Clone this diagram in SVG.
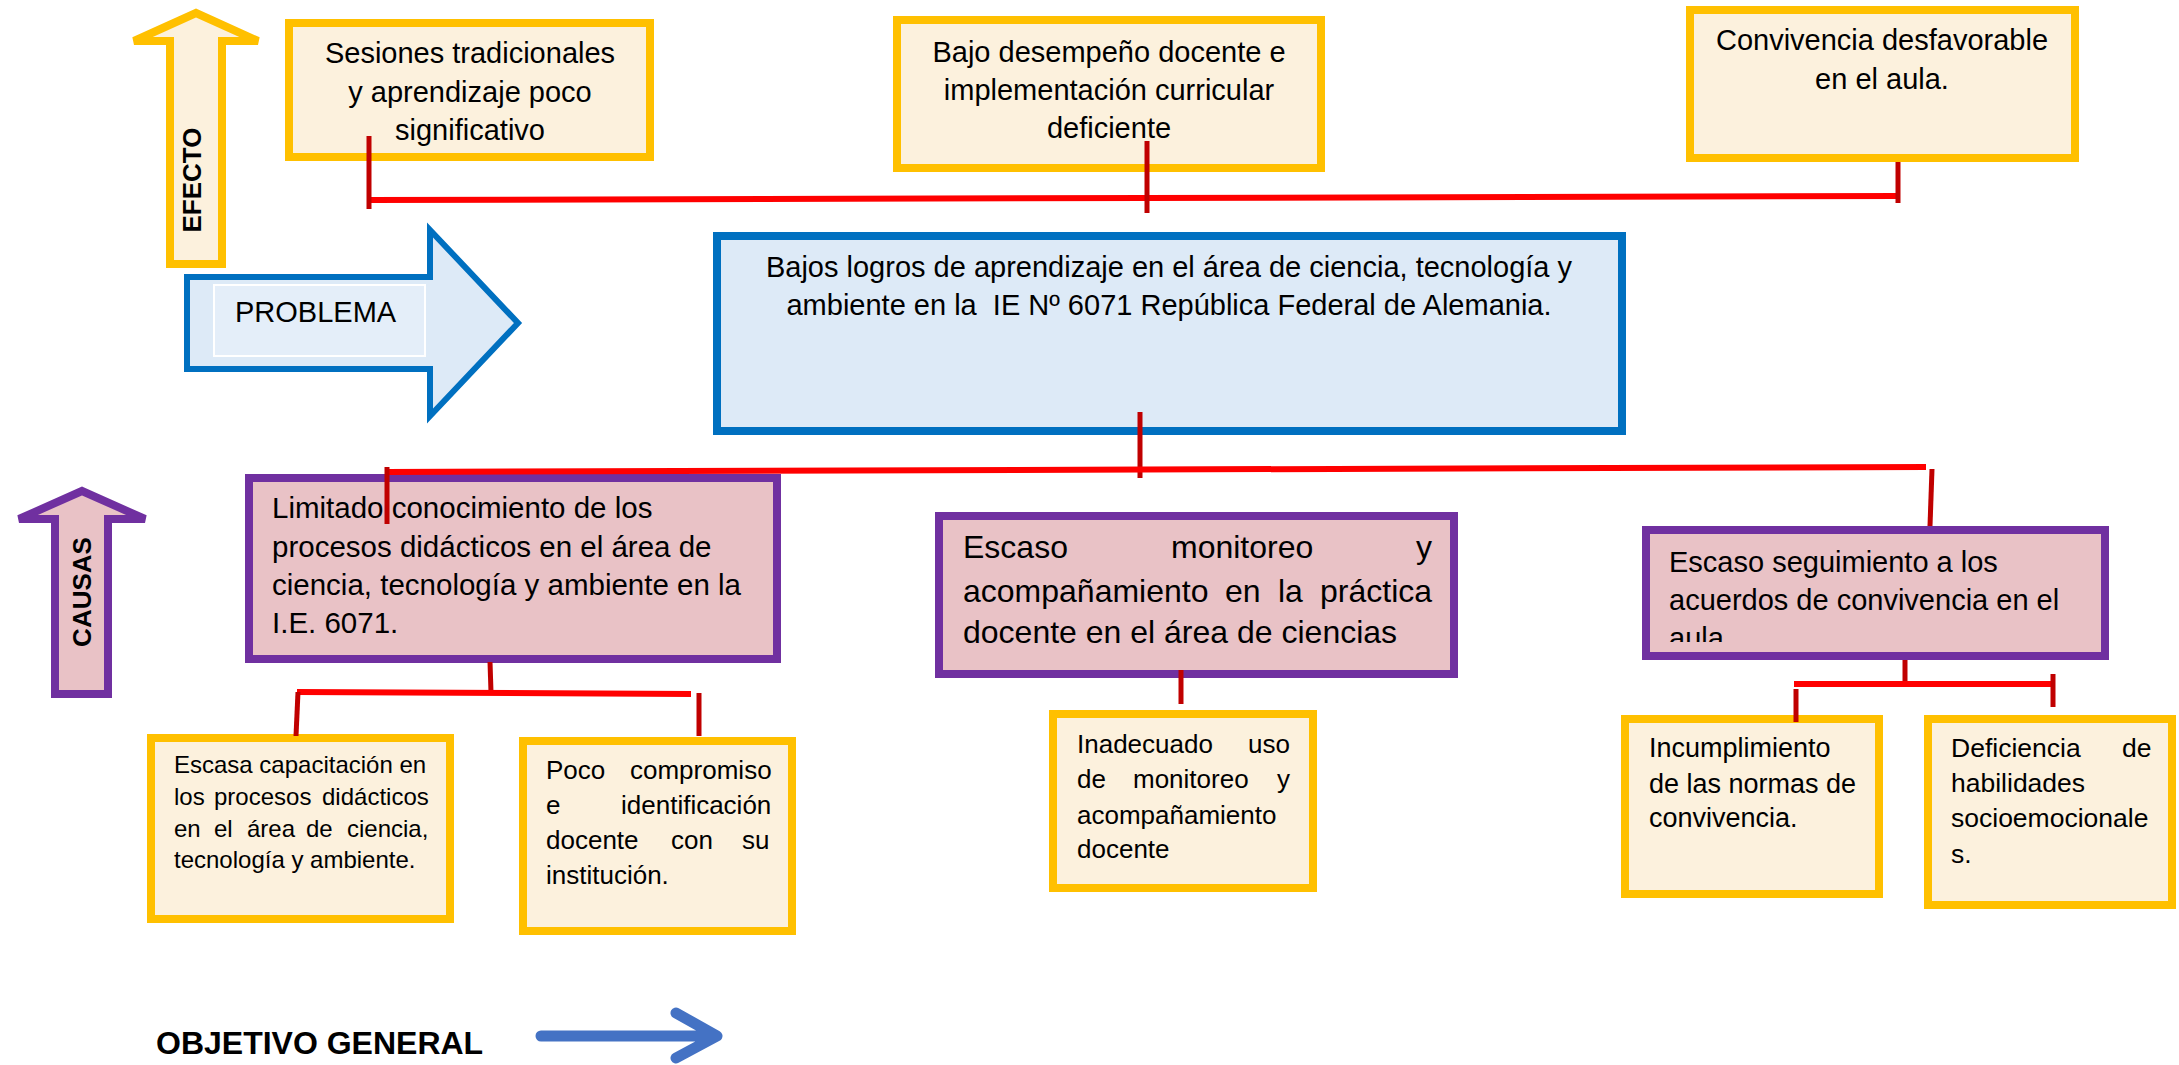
<svg xmlns="http://www.w3.org/2000/svg" width="2179" height="1065" viewBox="0 0 2179 1065">
<style>
text{font-family:"Liberation Sans",Arial,sans-serif;fill:#000;white-space:pre}
.eff{fill:#FCF1DD;stroke:#FFC000;stroke-width:8}
.cau{fill:#E9C2C6;stroke:#7030A0;stroke-width:8}
.prob{fill:#DDEAF7;stroke:#0070C0;stroke-width:8}
.ln{stroke:#FF0000;stroke-width:6;fill:none}
.tk{stroke:#C00000;stroke-width:5;fill:none}
.c{text-anchor:middle}
</style>
<defs>
<clipPath id="clipSeg"><rect x="1650" y="534" width="451" height="108"/></clipPath>
</defs>
<rect width="2179" height="1065" fill="#fff"/>

<g id="efecto-arrow">
<polygon class="eff" points="196,13 258,41 222,41 222,264 170,264 170,41 134,41"/>
<text transform="translate(201,180) rotate(-90)" class="c" font-size="26" font-weight="bold">EFECTO</text>
</g>

<g id="causas-arrow">
<polygon class="cau" points="82,491 145,519 108,519 108,694 55,694 55,519 19,519"/>
<text transform="translate(91,592) rotate(-90)" class="c" font-size="26" font-weight="bold">CAUSAS</text>
</g>

<g id="problema-arrow">
<polygon fill="#DDEAF7" stroke="#0070C0" stroke-width="6" points="187,277 430,277 430,230 518,323 430,416 430,369 187,369"/>
<rect x="214" y="285" width="211" height="71" fill="#E4EEF9" stroke="#fff" stroke-width="2"/>
<text x="235" y="322" font-size="29">PROBLEMA</text>
</g>

<g id="efecto1">
<rect class="eff" x="289" y="23" width="361" height="134"/>
<text class="c" font-size="29"><tspan x="470" y="63">Sesiones tradicionales</tspan><tspan x="470" y="102">y aprendizaje poco</tspan><tspan x="470" y="140">significativo</tspan></text>
</g>

<g id="efecto2">
<rect class="eff" x="897" y="20" width="424" height="148"/>
<text class="c" font-size="29"><tspan x="1109" y="62">Bajo desempeño docente e</tspan><tspan x="1109" y="100">implementación curricular</tspan><tspan x="1109" y="138">deficiente</tspan></text>
</g>

<g id="efecto3">
<rect class="eff" x="1690" y="10" width="385" height="148"/>
<text class="c" font-size="29"><tspan x="1882" y="50">Convivencia desfavorable</tspan><tspan x="1882" y="89">en el aula.</tspan></text>
</g>

<g id="problema">
<rect class="prob" x="717" y="236" width="905" height="195"/>
<text class="c" font-size="29"><tspan x="1169" y="277">Bajos logros de aprendizaje en el área de ciencia, tecnología y</tspan><tspan x="1169" y="315">ambiente en la  IE Nº 6071 República Federal de Alemania.</tspan></text>
</g>

<g id="causa1">
<rect class="cau" x="249" y="478" width="528" height="181"/>
<text font-size="29.5"><tspan x="272" y="518">Limitado conocimiento de los</tspan><tspan x="272" y="557">procesos didácticos en el área de</tspan><tspan x="272" y="595">ciencia, tecnología y ambiente en la</tspan><tspan x="272" y="633">I.E. 6071.</tspan></text>
</g>

<g id="causa2">
<rect class="cau" x="939" y="516" width="515" height="158"/>
<text font-size="32"><tspan x="963" y="558">Escaso</tspan><tspan x="1171" y="558">monitoreo</tspan><tspan x="1416" y="558">y</tspan><tspan x="963" y="602">acompañamiento</tspan><tspan x="1225" y="602">en</tspan><tspan x="1278" y="602">la</tspan><tspan x="1320" y="602">práctica</tspan><tspan x="963" y="643">docente en el área de ciencias</tspan></text>
</g>

<g id="causa3">
<rect class="cau" x="1646" y="530" width="459" height="126"/>
<text font-size="29" clip-path="url(#clipSeg)"><tspan x="1669" y="572">Escaso seguimiento a los</tspan><tspan x="1669" y="610">acuerdos de convivencia en el</tspan><tspan x="1669" y="648">aula</tspan></text>
</g>

<g id="subcausa1">
<rect class="eff" x="151" y="738" width="299" height="181"/>
<text font-size="24"><tspan x="174" y="773">Escasa capacitación en</tspan><tspan x="174" y="805">los</tspan><tspan x="214" y="805">procesos</tspan><tspan x="322" y="805">didácticos</tspan><tspan x="174" y="837">en</tspan><tspan x="214" y="837">el</tspan><tspan x="247" y="837">área</tspan><tspan x="306" y="837">de</tspan><tspan x="347" y="837">ciencia,</tspan><tspan x="174" y="868">tecnología y ambiente.</tspan></text>
</g>

<g id="subcausa2">
<rect class="eff" x="523" y="741" width="269" height="190"/>
<text font-size="26"><tspan x="546" y="779">Poco</tspan><tspan x="630" y="779">compromiso</tspan><tspan x="546" y="814">e</tspan><tspan x="621" y="814">identificación</tspan><tspan x="546" y="849">docente</tspan><tspan x="671" y="849">con</tspan><tspan x="742" y="849">su</tspan><tspan x="546" y="884">institución.</tspan></text>
</g>

<g id="subcausa3">
<rect class="eff" x="1053" y="714" width="260" height="174"/>
<text font-size="26"><tspan x="1077" y="753">Inadecuado</tspan><tspan x="1248" y="753">uso</tspan><tspan x="1077" y="788">de</tspan><tspan x="1133" y="788">monitoreo</tspan><tspan x="1277" y="788">y</tspan><tspan x="1077" y="824">acompañamiento</tspan><tspan x="1077" y="858">docente</tspan></text>
</g>

<g id="subcausa4">
<rect class="eff" x="1625" y="719" width="254" height="175"/>
<text font-size="27"><tspan x="1649" y="757">Incumplimiento</tspan><tspan x="1649" y="793">de las normas de</tspan><tspan x="1649" y="827">convivencia.</tspan></text>
</g>

<g id="subcausa5">
<rect class="eff" x="1928" y="719" width="244" height="186"/>
<text font-size="26.5"><tspan x="1951" y="757">Deficiencia</tspan><tspan x="2122" y="757">de</tspan><tspan x="1951" y="792">habilidades</tspan><tspan x="1951" y="827">socioemocionale</tspan><tspan x="1951" y="863">s.</tspan></text>
</g>

<g id="objetivo">
<text x="156" y="1054" font-size="32" font-weight="bold">OBJETIVO GENERAL</text>
<path d="M541,1036 H716 M676,1013 L717,1036 L676,1058" fill="none" stroke="#4472C4" stroke-width="11" stroke-linecap="round" stroke-linejoin="round"/>
</g>

<g id="connectors">
<line class="ln" x1="369" y1="200" x2="1898" y2="196"/>
<line class="tk" x1="369" y1="136" x2="369" y2="209"/>
<line class="tk" x1="1147" y1="141" x2="1147" y2="213"/>
<line class="tk" x1="1898" y1="162" x2="1898" y2="203"/>
<line class="tk" x1="1140" y1="412" x2="1140" y2="478"/>
<line class="ln" x1="387" y1="472" x2="1926" y2="467"/>
<line class="tk" x1="387" y1="467" x2="387" y2="524"/>
<line class="tk" x1="1932" y1="469" x2="1930" y2="526"/>
<line class="tk" x1="490" y1="662" x2="491" y2="692"/>
<line class="ln" x1="297" y1="692" x2="691" y2="694"/>
<line class="tk" x1="298" y1="692" x2="296" y2="736"/>
<line class="tk" x1="699" y1="693" x2="699" y2="736"/>
<line class="tk" x1="1181" y1="670" x2="1181" y2="704"/>
<line class="tk" x1="1905" y1="660" x2="1905" y2="684"/>
<line class="ln" x1="1794" y1="684" x2="2053" y2="684"/>
<line class="tk" x1="1796" y1="689" x2="1796" y2="722"/>
<line class="tk" x1="2053" y1="674" x2="2053" y2="707"/>
</g>
</svg>
